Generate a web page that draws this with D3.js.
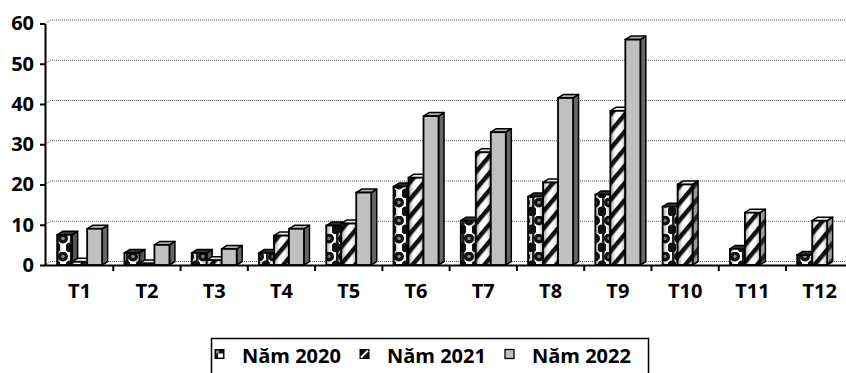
<!DOCTYPE html>
<html>
<head>
<meta charset="utf-8">
<script src="https://cdn.jsdelivr.net/npm/d3@7/dist/d3.min.js"></script>
<style>
  html, body { margin: 0; padding: 0; background: #fff; }
  svg { display: block; font-family: "Open Sans", "DejaVu Sans", sans-serif; }
</style>
</head>
<body>
<svg id="chart" width="846" height="373"></svg>
<script>
// Monthly values per year
const categories = ["T1", "T2", "T3", "T4", "T5", "T6", "T7", "T8", "T9", "T10", "T11", "T12"];
const seriesNames = ["Năm 2020", "Năm 2021", "Năm 2022"];
const values2020 = [7.5, 3, 3, 3, 9.8, 19.5, 11, 17, 17.5, 14.5, 4, 2.5];
const values2021 = [0.8, 0.4, 1.2, 7.3, 10.3, 21.7, 28, 20.5, 38.3, 20, 13, 11];
const values2022 = [9, 5, 4, 9, 18, 37, 33, 41.5, 56, null, null, null];
const yTicks = [0, 10, 20, 30, 40, 50, 60];

const seriesValues = [values2020, values2021, values2022];

const svg = d3.select("#chart");
const W = 846;

// 3D depth offset of the columns and back wall
const DX = 5.5, DY = 3.5;

const y = d3.scaleLinear().domain([0, 60]).range([265, 23.5]);
const x = d3.scaleBand().domain(categories).range([46, 853.3]).padding(0);
const groupW = 45;
const xs = d3.scaleBand().domain(seriesNames).range([0, groupW]).padding(0);

// ---- patterns ----
const defs = svg.append("defs");

// dotted block pattern for 2020
const p0 = defs.append("pattern").attr("id", "pat2020")
  .attr("patternUnits", "userSpaceOnUse").attr("width", 14).attr("height", 18);
p0.append("rect").attr("width", 14).attr("height", 18).attr("fill", "#fff");
p0.append("rect").attr("x", 0).attr("y", 0).attr("width", 2.5).attr("height", 18).attr("fill", "#222");
p0.append("circle").attr("cx", 7).attr("cy", 4.5).attr("r", 5).attr("fill", "#111");
p0.append("circle").attr("cx", 0).attr("cy", 13.5).attr("r", 5).attr("fill", "#111");
p0.append("circle").attr("cx", 14).attr("cy", 13.5).attr("r", 5).attr("fill", "#111");
p0.append("rect").attr("x", 4).attr("y", 10.5).attr("width", 6).attr("height", 6).attr("fill", "#fff");
p0.append("circle").attr("cx", 7).attr("cy", 4.5).attr("r", 1.8).attr("fill", "#888");

// diagonal stripes for 2021
const p1 = defs.append("pattern").attr("id", "pat2021")
  .attr("patternUnits", "userSpaceOnUse").attr("width", 11).attr("height", 11)
  .attr("patternTransform", "rotate(40)");
p1.append("rect").attr("width", 11).attr("height", 11).attr("fill", "#fff");
p1.append("rect").attr("width", 4.5).attr("height", 11).attr("fill", "#111");

// side-face stripes for 2021
const p1s = defs.append("pattern").attr("id", "pat2021side")
  .attr("patternUnits", "userSpaceOnUse").attr("width", 11).attr("height", 11)
  .attr("patternTransform", "rotate(40)");
p1s.append("rect").attr("width", 11).attr("height", 11).attr("fill", "#9a9a9a");
p1s.append("rect").attr("width", 4.5).attr("height", 11).attr("fill", "#222");

// shading across column faces
const shade = defs.append("linearGradient").attr("id", "shade")
  .attr("x1", "0%").attr("x2", "100%").attr("y1", "0%").attr("y2", "0%");
shade.append("stop").attr("offset", "0%").attr("stop-color", "#000").attr("stop-opacity", 0.35);
shade.append("stop").attr("offset", "35%").attr("stop-color", "#000").attr("stop-opacity", 0);
shade.append("stop").attr("offset", "70%").attr("stop-color", "#000").attr("stop-opacity", 0);
shade.append("stop").attr("offset", "100%").attr("stop-color", "#000").attr("stop-opacity", 0.3);

const styles = [
  { front: "url(#pat2020)", side: "#555", top: "#333", shade: true },
  { front: "url(#pat2021)", side: "url(#pat2021side)", top: "#e8e8e8", shade: true },
  { front: "#c0c0c0", side: "#666", top: "#b0b0b0", shade: false }
];

// ---- gridlines (side wall + back wall) ----
const grid = svg.append("g");
yTicks.forEach(t => {
  const yf = y(t);
  grid.append("path")
    .attr("d", `M45,${yf} L${45 + DX},${yf - DY} L${W},${yf - DY}`)
    .attr("fill", "none").attr("stroke", "#555").attr("stroke-width", 1)
    .attr("stroke-dasharray", "1,1");
});

// ---- columns ----
const bars = svg.append("g");
const y0 = y(0);
categories.forEach((c, ci) => {
  const gx = x(c) + (x.bandwidth() - groupW) / 2;
  seriesNames.forEach((s, si) => {
    const v = seriesValues[si][ci];
    if (v === null || v === undefined) return;
    const x0 = gx + xs(s);
    const w = xs.bandwidth();
    const yv = y(v);
    const st = styles[si];
    const g = bars.append("g");
    // side face
    g.append("path")
      .attr("d", `M${x0 + w},${yv} L${x0 + w + DX},${yv - DY} L${x0 + w + DX},${y0 - DY} L${x0 + w},${y0} Z`)
      .attr("fill", st.side).attr("stroke", "#000").attr("stroke-width", 1.5).attr("stroke-linejoin", "round");
    // top face
    g.append("path")
      .attr("d", `M${x0},${yv} L${x0 + DX},${yv - DY} L${x0 + w + DX},${yv - DY} L${x0 + w},${yv} Z`)
      .attr("fill", st.top).attr("stroke", "#000").attr("stroke-width", 1.5).attr("stroke-linejoin", "round");
    // front face
    g.append("rect")
      .attr("x", x0).attr("y", yv).attr("width", w).attr("height", y0 - yv)
      .attr("fill", st.front);
    if (st.shade) {
      g.append("rect")
        .attr("x", x0).attr("y", yv).attr("width", w).attr("height", y0 - yv)
        .attr("fill", "url(#shade)");
    }
    g.append("rect")
      .attr("x", x0).attr("y", yv).attr("width", w).attr("height", y0 - yv)
      .attr("fill", "none").attr("stroke", "#000").attr("stroke-width", 1.8);
  });
});

// ---- axes ----
const yAxis = svg.append("g").attr("transform", "translate(45,0)")
  .call(d3.axisLeft(y).tickValues(yTicks).tickSize(5).tickSizeOuter(0).tickPadding(6));
yAxis.select(".domain").attr("stroke", "#000").attr("stroke-width", 2);
yAxis.selectAll(".tick line").attr("stroke", "#000").attr("stroke-width", 2);
yAxis.selectAll(".tick text")
  .attr("font-family", "'Open Sans', sans-serif")
  .attr("font-size", 20).attr("font-weight", 700).attr("fill", "#000");

// category axis line
svg.append("line").attr("x1", 44).attr("x2", W).attr("y1", 265.5).attr("y2", 265.5)
  .attr("stroke", "#000").attr("stroke-width", 2);

// ticks between categories
svg.append("g").selectAll("line")
  .data(categories.slice(0, -1))
  .join("line")
  .attr("x1", d => x(d) + x.bandwidth()).attr("x2", d => x(d) + x.bandwidth())
  .attr("y1", 265.5).attr("y2", 271)
  .attr("stroke", "#000").attr("stroke-width", 2);

const xAxis = svg.append("g").attr("transform", "translate(0,265.5)")
  .call(d3.axisBottom(x).tickSize(0).tickPadding(0));
xAxis.select(".domain").remove();
xAxis.selectAll(".tick text")
  .attr("y", 32.5).attr("dy", 0)
  .attr("font-family", "'Open Sans', sans-serif")
  .attr("font-size", 20).attr("font-weight", 700).attr("fill", "#000");

// ---- legend ----
const legend = svg.append("g");
legend.append("rect")
  .attr("x", 211.5).attr("y", 338.5).attr("width", 437).attr("height", 50)
  .attr("fill", "#fff").attr("stroke", "#000").attr("stroke-width", 1.5);

const legendX = d3.scalePoint().domain(seriesNames).range([215, 505]);
seriesNames.forEach((s, i) => {
  const lx = legendX(s);
  const sw = legend.append("g").attr("transform", `translate(${lx},349.5)`);
  if (i === 0) {
    sw.append("rect").attr("width", 9).attr("height", 9).attr("fill", "#111").attr("stroke", "#000");
    sw.append("rect").attr("x", 3).attr("y", 4).attr("width", 5).attr("height", 4).attr("fill", "#fff");
    sw.append("rect").attr("x", 1).attr("y", 1).attr("width", 3).attr("height", 3).attr("fill", "#888");
  } else if (i === 1) {
    sw.append("rect").attr("width", 9).attr("height", 9).attr("fill", "#111").attr("stroke", "#000");
    sw.append("path").attr("d", "M1,8 L8,1").attr("stroke", "#fff").attr("stroke-width", 2);
  } else {
    sw.append("rect").attr("width", 9).attr("height", 9).attr("fill", "#c0c0c0").attr("stroke", "#000").attr("stroke-width", 1.3);
  }
  legend.append("text")
    .attr("x", lx + 27).attr("y", 363)
    .attr("font-family", "'Open Sans', sans-serif")
    .attr("font-size", 20).attr("font-weight", 700).attr("fill", "#000")
    .text(s);
});
</script>
</body>
</html>
